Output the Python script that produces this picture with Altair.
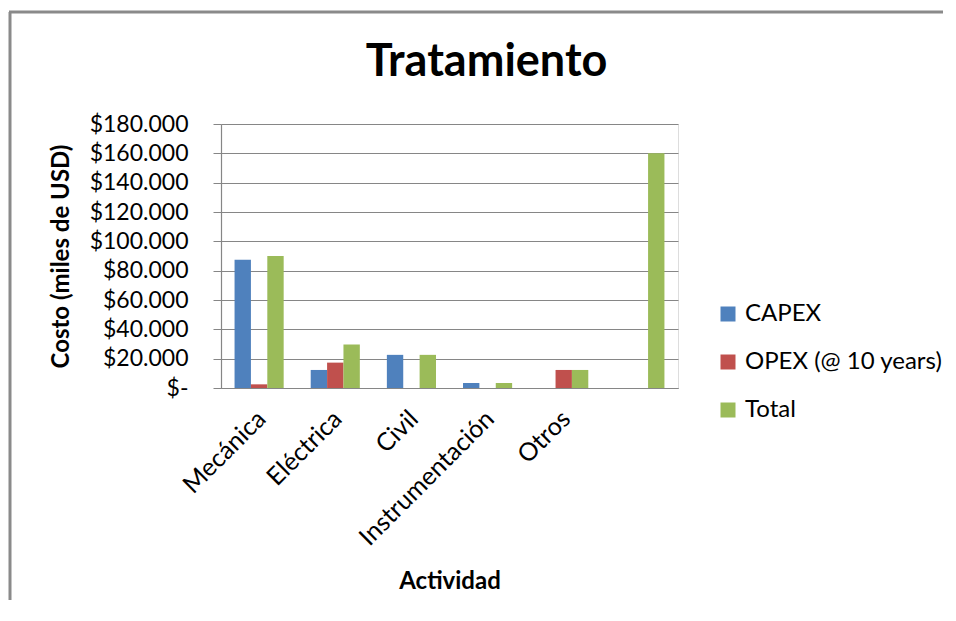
import altair as alt
import pandas as pd

categories = ["Mecánica", "Eléctrica", "Civil", "Instrumentación", "Otros", " "]
series = ["CAPEX", "OPEX (@ 10 years)", "Total"]
capex = [87.5, 12.3, 22.6, 3.4, 0.0, 0.0]
opex = [2.5, 17.3, 0.0, 0.0, 12.3, 0.0]
total = [90.0, 29.6, 22.6, 3.4, 12.3, 160.0]
colors = ["#4F81BD", "#C0504D", "#9BBB59"]
y_ticks = [0, 20, 40, 60, 80, 100, 120, 140, 160, 180]

rows = []
for name, vals in zip(series, [capex, opex, total]):
    for c, v in zip(categories, vals):
        rows.append({"Actividad": c, "Serie": name, "Valor": v})
df = pd.DataFrame(rows)

FONT = "Lato"
W, H = 457, 264
PL, PT, PR, PB = 213, 116, 265, 212

bars = alt.Chart(df).mark_bar().encode(
    x=alt.X("Actividad:N", sort=categories,
            scale=alt.Scale(paddingInner=0.355, paddingOuter=0.178),
            axis=alt.Axis(title="Actividad", labelAngle=315, labelAlign="right",
                          labelBaseline="top", labelPadding=18, labelOffset=-6,
                          ticks=False, labelFontSize=25, labelFont=FONT,
                          labelColor="#000000", labelLimit=300, titleFont=FONT,
                          titleFontSize=24, titleFontWeight="bold", titleColor="#000000",
                          titlePadding=20, domainColor="#868686", domainWidth=1.2,
                          grid=False)),
    xOffset=alt.XOffset("Serie:N", sort=series, scale=alt.Scale(domain=series, paddingInner=0)),
    y=alt.Y("Valor:Q", scale=alt.Scale(domain=[0, 180], nice=False),
            axis=alt.Axis(title="Costo (miles de USD)", values=y_ticks,
                          labelExpr="datum.value == 0 ? '$-' : '$' + datum.value + '.000'",
                          labelFont=FONT, labelFontSize=23, labelColor="#000000",
                          tickSize=8, tickColor="#868686", labelPadding=25,
                          domainColor="#868686", domainWidth=1.2,
                          gridColor="#868686", gridWidth=1.1,
                          titleFont=FONT, titleFontSize=24, titleFontWeight="bold",
                          titleColor="#000000", titlePadding=16)),
    color=alt.Color("Serie:N", sort=series,
                    scale=alt.Scale(domain=series, range=colors),
                    legend=alt.Legend(title=None, orient="none", legendX=495, legendY=178,
                                      symbolType="square", symbolSize=225,
                                      symbolStrokeWidth=0, labelFont=FONT,
                                      labelFontSize=24, labelColor="#000000",
                                      labelLimit=300,
                                      rowPadding=24, labelOffset=5, padding=0)),
)

border_left = alt.Chart(alt.Data(values=[{"a": 1}])).mark_rule(
    color="#8a8a8a", strokeWidth=3
).encode(x=alt.value(-211), y=alt.value(-112), y2=alt.value(H + PB))

border_top = alt.Chart(alt.Data(values=[{"a": 1}])).mark_rule(
    color="#8a8a8a", strokeWidth=3
).encode(x=alt.value(-212), x2=alt.value(W + PR), y=alt.value(-112))

chart = alt.layer(bars, border_left, border_top).properties(
    width=W, height=H,
    title=alt.TitleParams("Tratamiento", font=FONT, fontSize=45, fontWeight="bold",
                          color="#000000", anchor="middle", dx=37, offset=-74),
    autosize=alt.AutoSizeParams(type="none"),
    padding={"left": PL, "top": PT, "right": PR, "bottom": PB},
).configure_view(stroke=None).configure(background="#ffffff")

chart.save("out.html", embed_options={"renderer": "svg", "actions": False})
